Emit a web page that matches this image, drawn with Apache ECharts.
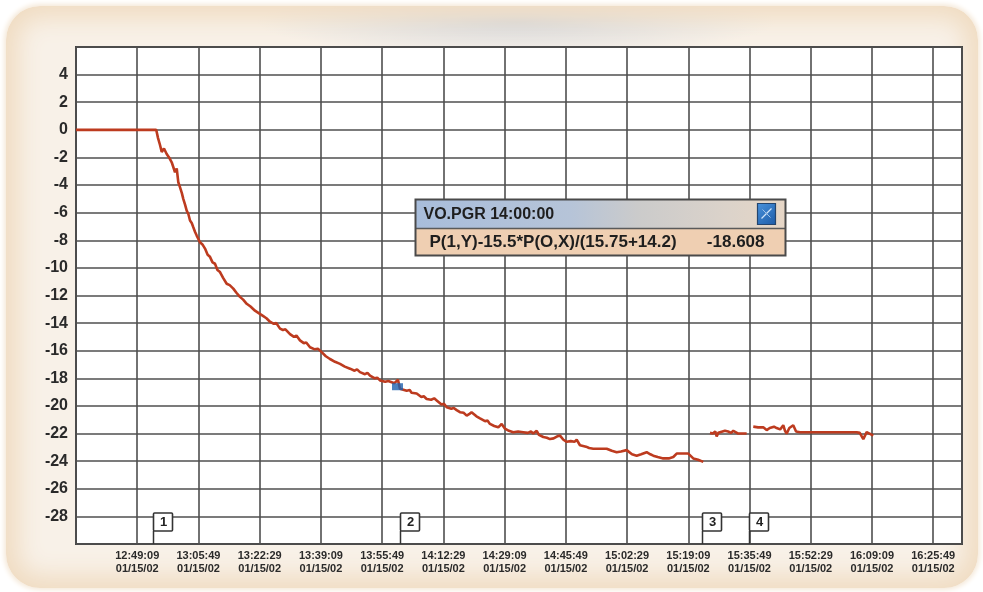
<!DOCTYPE html>
<html>
<head>
<meta charset="utf-8">
<script src="https://cdn.jsdelivr.net/npm/echarts@6/dist/echarts.min.js"></script>
<style>
html,body{margin:0;padding:0;background:#ffffff;}
#frame{position:absolute;left:6px;top:6px;width:972px;height:582px;border-radius:34px;
 background:radial-gradient(ellipse 260px 34px at 510px 16px, rgba(205,210,218,0.8), rgba(205,210,218,0)), #f8f1e8;
 box-shadow: inset 0 0 24px 12px #f0dcc2, 0 0 5px 2px #f5e9d9;}
#chart{position:absolute;left:0;top:0;width:983px;height:592px;}
</style>
</head>
<body>
<div id="frame"></div>
<div id="chart"></div>
<script>
// x values: seconds after 12:32:29 on 01/15/02
const baseClock = 12 * 3600 + 32 * 60 + 29;
const dateText = '01/15/02';

const timeSec = [
  0, 1310, 1340, 1372, 1390, 1400, 1437, 1481, 1520, 1563, 1590, 1617, 1645, 1671, 1698, 1730, 1752, 1780, 1808, 1835,
  1862, 1890, 1916, 1945, 1971, 2000, 2025, 2065, 2107, 2150, 2188, 2230, 2270, 2310, 2352, 2400, 2430, 2461, 2510, 2540,
  2569, 2620, 2650, 2678, 2730, 2760, 2788, 2850, 2880, 2923, 2990, 3020, 3059, 3110, 3140, 3168, 3230, 3270, 3332, 3380,
  3420, 3495, 3560, 3600, 3658, 3720, 3760, 3822, 3900, 3950, 4012, 4080, 4110, 4148, 4230, 4260, 4312, 4390, 4420, 4475,
  4550, 4590, 4638, 4720, 4760, 4802, 4880, 4920, 4965, 5050, 5100, 5128, 5200, 5259, 5290, 5401, 5450, 5480, 5564, 5640,
  5680, 5727, 5800, 5850, 5891, 5970, 6010, 6054, 6130, 6170, 6217, 6271, 6330, 6381, 6420, 6460, 6489, 6540, 6598, 6680,
  6720, 6761, 6830, 6897, 6952, 7006, 7070, 7142, 7220, 7305, 7380, 7430, 7468, 7524, 7560, 7632, 7690, 7741, 7800, 7860,
  7905, 7960, 8014, 8080, 8140, 8177, 8231, 8330, 8380, 8448, 8560, 8667, 8750, 8830, 8900, 8994, 9080, 9157, 9230, 9320,
  9380, 9428, 9500, 9591, 9680, 9755, 9810, 9900, 10000, 10081, 10160, 10245,
  10300,
  10354, 10400, 10440, 10463, 10490, 10517, 10599, 10650, 10700, 10735, 10816, 10953,
  11000,
  11061, 11140, 11224, 11250, 11280, 11330, 11400, 11443, 11500, 11551, 11580, 11606, 11650, 11714, 11760, 11824, 11987,
  12368, 12750, 12800, 12858, 12913, 12960, 13021
];
const pgrValue = [
  0, 0, -0.6, -1.1, -1.0, -1.6, -1.35, -1.75, -2.0, -2.35, -2.4, -3.07, -2.8, -3.8, -4.15, -4.6, -5.0, -5.4, -5.85, -6.1,
  -6.57, -6.75, -7.06, -7.4, -7.66, -7.8, -8.14, -8.3, -8.6, -9.05, -9.2, -9.6, -9.7, -10.15, -10.3, -10.7, -10.65, -11.15, -11.25, -11.2,
  -11.5, -11.8, -11.75, -12.1, -12.3, -12.25, -12.6, -12.8, -12.75, -13.1, -13.3, -13.25, -13.5, -13.65, -13.6, -13.9, -14.05, -14.0, -14.4, -14.5,
  -14.45, -14.8, -15.0, -14.9, -15.25, -15.45, -15.4, -15.75, -15.9, -15.85, -16.1, -16.4, -16.35, -16.6, -16.8, -16.7, -16.95, -17.15, -17.05, -17.3,
  -17.45, -17.35, -17.55, -17.7, -17.6, -17.8, -18.0, -17.95, -18.15, -18.25, -18.2, -18.3, -18.35, -18.1, -18.75, -18.9, -18.85, -19.05, -19.1, -19.35,
  -19.3, -19.5, -19.55, -19.45, -19.6, -19.9, -19.85, -20.1, -20.2, -20.15, -20.3, -20.45, -20.5, -20.7, -20.6, -20.45, -20.5, -20.75, -20.9, -21.1,
  -21.05, -21.3, -21.45, -21.55, -21.3, -21.65, -21.8, -21.9, -21.85, -21.9, -21.95, -21.85, -22.0, -21.8, -22.1, -22.25, -22.3, -22.4, -22.35, -22.2,
  -22.15, -22.45, -22.6, -22.55, -22.6, -22.45, -22.85, -22.95, -23.05, -23.1, -23.1, -23.1, -23.25, -23.35, -23.3, -23.2, -23.5, -23.6, -23.5, -23.35,
  -23.5, -23.6, -23.7, -23.8, -23.8, -23.7, -23.45, -23.45, -23.45, -23.8, -23.9, -24.05,
  null,
  -21.95, -22.0, -21.85, -22.2, -21.95, -22.0, -21.8, -21.85, -21.95, -21.8, -22.0, -22.0,
  null,
  -21.5, -21.55, -21.55, -21.45, -21.75, -21.6, -21.5, -21.6, -21.7, -21.4, -21.8, -22.0, -21.6, -21.4, -21.85, -21.9, -21.9,
  -21.9, -21.9, -21.95, -22.4, -21.9, -22.0, -22.15
];

// event markers (bottom boxes)
const markerTime = [1257, 5291, 10223, 10991];
const markerLabel = ['1', '2', '3', '4'];

// cursor readout
const cursorTime = [5251];
const cursorValue = [-18.608];
const readoutTitle = 'VO.PGR 14:00:00';
const readoutExpr = 'P(1,Y)-15.5*P(O,X)/(15.75+14.2)';
const readoutValue = '-18.608';

const yMin = -30, yMax = 6, yStep = 2;
const xMin = 0, xMax = 14470, xStep = 1000;

function pad(n) { return (n < 10 ? '0' : '') + n; }
function clock(t) {
  let s = Math.round(baseClock + t);
  const h = Math.floor(s / 3600); s -= h * 3600;
  const m = Math.floor(s / 60); s -= m * 60;
  return pad(h) + ':' + pad(m) + ':' + pad(s);
}

const lineData = timeSec.map((t, i) => [t, pgrValue[i] === null ? '-' : pgrValue[i]]);
const markerData = markerTime.map(t => [t, yMin]);
const cursorData = cursorTime.map((t, i) => [t, cursorValue[i]]);

const FONT = '"Liberation Sans", Arial, sans-serif';
const gridColor = '#4f4f4f';
const TZ = 100;

const chart = echarts.init(document.getElementById('chart'), null, { renderer: 'canvas' });
chart.setOption({
  animation: false,
  backgroundColor: 'transparent',
  grid: {
    left: 76, top: 47, width: 886, height: 497,
    show: true, backgroundColor: '#ffffff', borderColor: '#454545', borderWidth: 2,
    containLabel: false, outerBoundsMode: 'none'
  },
  xAxis: {
    type: 'value', min: xMin, max: xMax, interval: xStep,
    axisLine: { show: false }, axisTick: { show: false },
    splitLine: { show: true, lineStyle: { color: gridColor, width: 1.6 } },
    axisLabel: {
      show: true, interval: 0, showMinLabel: false, showMaxLabel: false, hideOverlap: false,
      margin: 5, color: '#2a2a2a', fontFamily: FONT, fontWeight: 'bold', fontSize: 11, lineHeight: 13,
      formatter: v => clock(v) + '\n' + dateText
    }
  },
  yAxis: {
    type: 'value', min: yMin, max: yMax, interval: yStep,
    axisLine: { show: false }, axisTick: { show: false },
    splitLine: { show: true, lineStyle: { color: gridColor, width: 1.6 } },
    axisLabel: {
      show: true, showMinLabel: false, showMaxLabel: false,
      margin: 8, color: '#2a2a2a', fontFamily: FONT, fontWeight: 'bold', fontSize: 16
    }
  },
  series: [
    {
      type: 'line', data: lineData, showSymbol: false, connectNulls: false,
      lineStyle: { color: '#bd3b1f', width: 2.6 }, itemStyle: { color: '#bd3b1f' }, z: 3
    },
    {
      type: 'scatter', data: cursorData, symbol: 'rect', symbolSize: [11, 7],
      itemStyle: { color: '#1f62ae' }, z: 4
    },
    {
      type: 'custom', data: markerData, z: 5, clip: false,
      renderItem: function (params, api) {
        const p = api.coord([api.value(0), api.value(1)]);
        const x = Math.round(p[0]) + 0.5, y = p[1];
        return {
          type: 'group',
          children: [
            { type: 'line', shape: { x1: x, y1: y, x2: x, y2: y - 13 }, style: { stroke: '#333', lineWidth: 1.5 } },
            { type: 'rect', shape: { x: x, y: y - 31, width: 19, height: 18, r: 1 },
              style: { fill: '#ffffff', stroke: '#333', lineWidth: 1.6 } },
            { type: 'text', style: { text: markerLabel[params.dataIndex], x: x + 10, y: y - 22,
              align: 'center', verticalAlign: 'middle', font: 'bold 13px ' + FONT, fill: '#222' } }
          ]
        };
      }
    }
  ],
  graphic: [
    {
      type: 'group', left: 413, top: 197, z: TZ,
      children: [
        { type: 'rect', z: TZ, shape: { x: 0, y: 0, width: 370, height: 29 },
          style: { fill: new echarts.graphic.LinearGradient(0, 0, 1, 0, [
            { offset: 0, color: '#a8bddb' }, { offset: 0.42, color: '#b6c4d8' },
            { offset: 0.6, color: '#cbcbcb' }, { offset: 0.85, color: '#dcd3ca' }, { offset: 1, color: '#e6d6c6' }]) } },
        { type: 'rect', z: TZ, shape: { x: 0, y: 29, width: 370, height: 27 }, style: { fill: '#efcfb2' } },
        { type: 'line', z: TZ + 1, shape: { x1: 0, y1: 29, x2: 370, y2: 29 }, style: { stroke: '#5a5a5a', lineWidth: 1.5 } },
        { type: 'text', z: TZ + 2, style: { text: readoutTitle, x: 8, y: 15, verticalAlign: 'middle',
          font: 'bold 16px ' + FONT, fill: '#1e1e1e' } },
        { type: 'rect', z: TZ + 1, shape: { x: 342, y: 4, width: 18, height: 21 },
          style: { fill: new echarts.graphic.LinearGradient(0, 0, 1, 1, [
            { offset: 0, color: '#4a93dd' }, { offset: 1, color: '#1c5aa6' }]), stroke: '#24456e', lineWidth: 1.2 } },
        { type: 'line', z: TZ + 2, shape: { x1: 346, y1: 19, x2: 356, y2: 9 }, style: { stroke: '#cfe3f7', lineWidth: 1.3 } },
        { type: 'line', z: TZ + 2, shape: { x1: 347, y1: 10, x2: 355, y2: 18 }, style: { stroke: '#9cc1e8', lineWidth: 1 } },
        { type: 'text', z: TZ + 2, style: { text: readoutExpr, x: 14, y: 43, verticalAlign: 'middle',
          font: 'bold 17px ' + FONT, fill: '#1e1e1e' } },
        { type: 'text', z: TZ + 2, style: { text: readoutValue, x: 349, y: 43, align: 'right', verticalAlign: 'middle',
          font: 'bold 17px ' + FONT, fill: '#1e1e1e' } },
        { type: 'rect', z: TZ + 3, shape: { x: 0, y: 0, width: 370, height: 56 },
          style: { fill: 'none', stroke: '#4a4a4a', lineWidth: 2 } }
      ]
    }
  ]
});
</script>
</body>
</html>
